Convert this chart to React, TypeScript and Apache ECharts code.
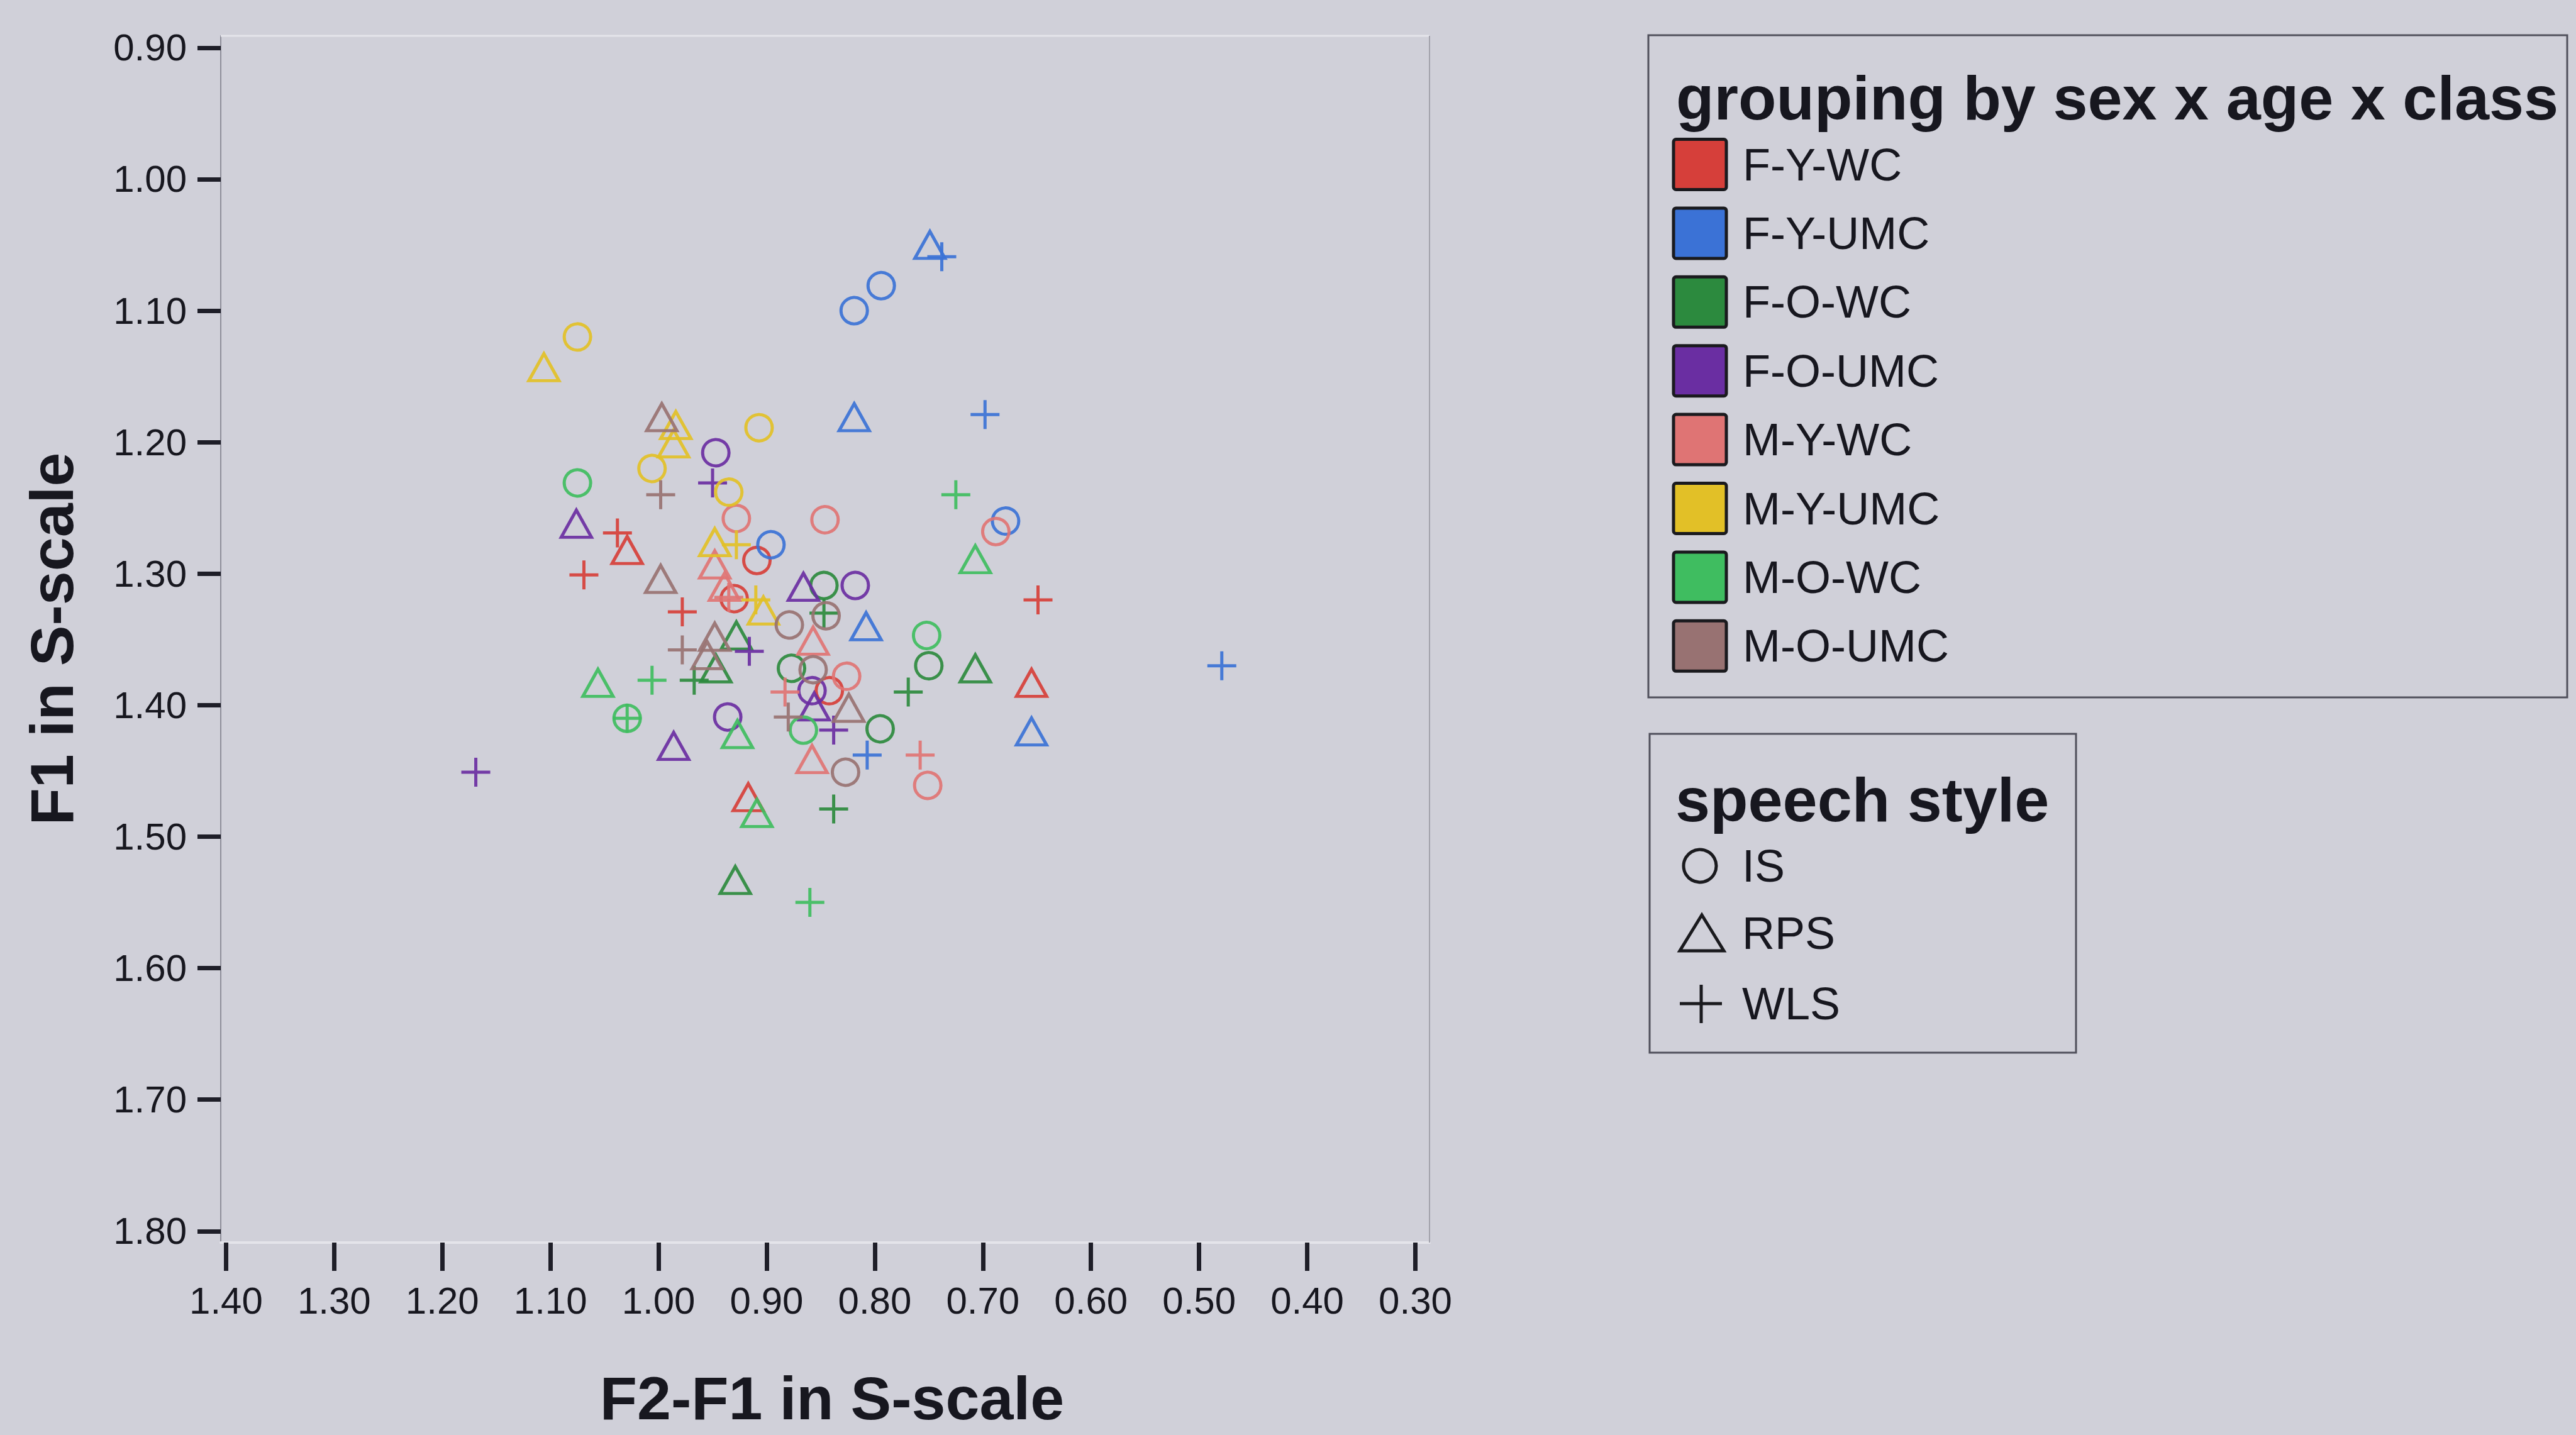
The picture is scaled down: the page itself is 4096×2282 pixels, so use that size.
import React, { useEffect, useRef } from "react";
import * as echarts from "echarts";

// ---------- data ----------
const GROUPS = ["F-Y-WC", "F-Y-UMC", "F-O-WC", "F-O-UMC", "M-Y-WC", "M-Y-UMC", "M-O-WC", "M-O-UMC"];
const GROUP_COLORS = ["#d63f3a", "#3b72d6", "#2c8a3e", "#6a2ea2", "#df7474", "#e2c027", "#3fbd60", "#987272"];
const STYLES = ["IS", "RPS", "WLS"];

// rows: [F2-F1 in S-scale, F1 in S-scale, speech style]
const F_Y_WC: [number, number, string][] = [
  [0.909, 1.290, "IS"], [0.930, 1.319, "IS"], [0.842, 1.389, "IS"],
  [1.029, 1.282, "RPS"], [0.917, 1.470, "RPS"], [0.655, 1.383, "RPS"],
  [1.038, 1.269, "WLS"], [1.069, 1.301, "WLS"], [0.978, 1.329, "WLS"], [0.649, 1.320, "WLS"],
];
const F_Y_UMC: [number, number, string][] = [
  [0.819, 1.100, "IS"], [0.794, 1.081, "IS"], [0.896, 1.278, "IS"], [0.679, 1.260, "IS"],
  [0.749, 1.050, "RPS"], [0.819, 1.181, "RPS"], [0.808, 1.340, "RPS"], [0.655, 1.420, "RPS"],
  [0.738, 1.059, "WLS"], [0.698, 1.179, "WLS"], [0.479, 1.370, "WLS"], [0.807, 1.438, "WLS"],
];
const F_O_WC: [number, number, string][] = [
  [0.847, 1.309, "IS"], [0.877, 1.372, "IS"], [0.750, 1.370, "IS"], [0.795, 1.418, "IS"],
  [0.928, 1.347, "RPS"], [0.947, 1.372, "RPS"], [0.707, 1.372, "RPS"], [0.929, 1.533, "RPS"],
  [0.847, 1.330, "WLS"], [0.967, 1.381, "WLS"], [0.769, 1.390, "WLS"], [0.838, 1.479, "WLS"],
];
const F_O_UMC: [number, number, string][] = [
  [0.947, 1.208, "IS"], [0.818, 1.309, "IS"], [0.858, 1.389, "IS"], [0.936, 1.409, "IS"],
  [1.076, 1.262, "RPS"], [0.866, 1.310, "RPS"], [0.856, 1.401, "RPS"], [0.986, 1.431, "RPS"],
  [0.950, 1.231, "WLS"], [0.916, 1.359, "WLS"], [0.838, 1.419, "WLS"], [1.169, 1.451, "WLS"],
];
const M_Y_WC: [number, number, string][] = [
  [0.928, 1.258, "IS"], [0.846, 1.259, "IS"], [0.688, 1.268, "IS"], [0.826, 1.378, "IS"], [0.751, 1.461, "IS"],
  [0.948, 1.293, "RPS"], [0.939, 1.310, "RPS"], [0.857, 1.351, "RPS"], [0.858, 1.441, "RPS"],
  [0.935, 1.318, "WLS"], [0.883, 1.390, "WLS"], [0.758, 1.438, "WLS"],
];
const M_Y_UMC: [number, number, string][] = [
  [1.075, 1.120, "IS"], [0.907, 1.189, "IS"], [1.006, 1.220, "IS"], [0.935, 1.238, "IS"],
  [1.106, 1.143, "RPS"], [0.984, 1.187, "RPS"], [0.986, 1.201, "RPS"], [0.948, 1.276, "RPS"], [0.903, 1.328, "RPS"],
  [0.928, 1.278, "WLS"], [0.910, 1.320, "WLS"],
];
const M_O_WC: [number, number, string][] = [
  [1.075, 1.231, "IS"], [0.752, 1.347, "IS"], [1.029, 1.410, "IS"], [0.866, 1.419, "IS"],
  [0.707, 1.289, "RPS"], [1.056, 1.383, "RPS"], [0.927, 1.422, "RPS"], [0.909, 1.482, "RPS"],
  [0.725, 1.240, "WLS"], [1.006, 1.381, "WLS"], [1.029, 1.410, "WLS"], [0.860, 1.550, "WLS"],
];
const M_O_UMC: [number, number, string][] = [
  [0.879, 1.339, "IS"], [0.845, 1.332, "IS"], [0.857, 1.373, "IS"], [0.827, 1.451, "IS"],
  [0.997, 1.181, "RPS"], [0.998, 1.304, "RPS"], [0.948, 1.348, "RPS"], [0.955, 1.362, "RPS"], [0.824, 1.402, "RPS"],
  [0.998, 1.240, "WLS"], [0.978, 1.358, "WLS"], [0.880, 1.409, "WLS"],
];
const GROUP_DATA = [F_Y_WC, F_Y_UMC, F_O_WC, F_O_UMC, M_Y_WC, M_Y_UMC, M_O_WC, M_O_UMC];

const X_TICKS = [1.4, 1.3, 1.2, 1.1, 1.0, 0.9, 0.8, 0.7, 0.6, 0.5, 0.4, 0.3];
const Y_TICKS = [0.9, 1.0, 1.1, 1.2, 1.3, 1.4, 1.5, 1.6, 1.7, 1.8];

const X_TITLE = "F2-F1 in S-scale";
const Y_TITLE = "F1 in S-scale";
const LEGEND1_TITLE = "grouping by sex x age x class";
const LEGEND2_TITLE = "speech style";

// ---------- styling ----------
const BG = "#d0d0d9";
const FONT = '"Liberation Sans", Arial, sans-serif';
const INK = "#17171f";
const PLUS_PATH = "path://M0,10L20,10M10,0L10,20";
const SYMBOLS = ["circle", "triangle", PLUS_PATH];
const SIZES: any[] = [42, [48, 43], 46];

const GRID = { left: 351, top: 57, right: 2273, bottom: 1976 };

export default function App() {
  const ref = useRef<HTMLDivElement>(null);

  useEffect(() => {
    if (!ref.current) return;
    const chart = echarts.init(ref.current, null, { renderer: "svg" });

    const series: any[] = [];
    GROUP_DATA.forEach((rows, gi) => {
      STYLES.forEach((st, si) => {
        const pts = rows.filter((r) => r[2] === st).map((r) => [r[0], r[1]]);
        series.push({
          name: GROUPS[gi] + " " + st,
          type: "scatter",
          data: pts,
          symbol: SYMBOLS[si],
          symbolSize: SIZES[si],
          itemStyle: {
            color: "rgba(0,0,0,0)",
            borderColor: GROUP_COLORS[gi],
            borderWidth: 5,
            opacity: 0.92,
          },
          emphasis: { disabled: true },
          silent: true,
          z: 3,
        });
      });
    });

    const fmt = (v: number) => v.toFixed(2);

    const graphic: any[] = [];
    // plot frame: top and right edges
    graphic.push({
      type: "line", silent: true, z: 1,
      shape: { x1: GRID.left, y1: GRID.top, x2: GRID.right, y2: GRID.top },
      style: { stroke: "#e4e4ea", lineWidth: 3 },
    });
    graphic.push({
      type: "line", silent: true, z: 1,
      shape: { x1: GRID.right, y1: GRID.top, x2: GRID.right, y2: GRID.bottom },
      style: { stroke: "#a2a2ac", lineWidth: 2 },
    });
    // axis titles
    graphic.push({
      type: "text", silent: true, x: 1323, y: 2223,
      style: { text: X_TITLE, fontFamily: FONT, fontSize: 97, fontWeight: "bold", fill: INK, align: "center", verticalAlign: "middle" },
    });
    graphic.push({
      type: "text", silent: true, x: 82, y: 1016, rotation: Math.PI / 2,
      style: { text: Y_TITLE, fontFamily: FONT, fontSize: 97, fontWeight: "bold", fill: INK, align: "center", verticalAlign: "middle" },
    });

    // legend 1
    graphic.push({
      type: "rect", silent: true,
      shape: { x: 2621, y: 56, width: 1461, height: 1053 },
      style: { fill: "none", stroke: "#50505c", lineWidth: 3 },
    });
    graphic.push({
      type: "text", silent: true, x: 2665, y: 155,
      style: { text: LEGEND1_TITLE, fontFamily: FONT, fontSize: 99, fontWeight: "bold", fill: INK, align: "left", verticalAlign: "middle" },
    });
    GROUPS.forEach((g, i) => {
      const cy = 261.5 + i * 109.4;
      graphic.push({
        type: "rect", silent: true,
        shape: { x: 2661, y: cy - 40, width: 84, height: 80, r: 4 },
        style: { fill: GROUP_COLORS[i], stroke: "#1a1a1e", lineWidth: 5 },
      });
      graphic.push({
        type: "text", silent: true, x: 2771, y: cy,
        style: { text: g, fontFamily: FONT, fontSize: 72, fill: INK, align: "left", verticalAlign: "middle" },
      });
    });

    // legend 2
    graphic.push({
      type: "rect", silent: true,
      shape: { x: 2623, y: 1167, width: 678, height: 507 },
      style: { fill: "none", stroke: "#50505c", lineWidth: 3 },
    });
    graphic.push({
      type: "text", silent: true, x: 2664, y: 1271,
      style: { text: LEGEND2_TITLE, fontFamily: FONT, fontSize: 99, fontWeight: "bold", fill: INK, align: "left", verticalAlign: "middle" },
    });
    const rowsY = [1377, 1484, 1596];
    graphic.push({
      type: "circle", silent: true,
      shape: { cx: 2703, cy: rowsY[0], r: 26 },
      style: { fill: "none", stroke: "#1a1a1e", lineWidth: 5 },
    });
    graphic.push({
      type: "polygon", silent: true,
      shape: { points: [[2671, 1512], [2741, 1512], [2706, 1455]] },
      style: { fill: "none", stroke: "#1a1a1e", lineWidth: 5 },
    });
    graphic.push({
      type: "line", silent: true,
      shape: { x1: 2671, y1: rowsY[2], x2: 2738, y2: rowsY[2] },
      style: { stroke: "#1a1a1e", lineWidth: 5 },
    });
    graphic.push({
      type: "line", silent: true,
      shape: { x1: 2705, y1: 1566, x2: 2705, y2: 1627 },
      style: { stroke: "#1a1a1e", lineWidth: 5 },
    });
    STYLES.forEach((s, i) => {
      graphic.push({
        type: "text", silent: true, x: 2770, y: rowsY[i],
        style: { text: s, fontFamily: FONT, fontSize: 72, fill: INK, align: "left", verticalAlign: "middle" },
      });
    });

    const option: any = {
      animation: false,
      backgroundColor: BG,
      textStyle: { fontFamily: FONT },
      grid: {
        left: GRID.left,
        top: GRID.top,
        width: GRID.right - GRID.left,
        height: GRID.bottom - GRID.top,
        containLabel: false,
        outerBoundsMode: "none",
      },
      xAxis: {
        type: "value",
        inverse: true,
        min: 0.2869,
        max: 1.4049,
        axisLine: { show: true, onZero: false, lineStyle: { color: "#e4e4ea", width: 4 } },
        axisTick: { show: true, length: 45, customValues: X_TICKS, lineStyle: { color: "#1e1e28", width: 7 } },
        axisLabel: { show: true, customValues: X_TICKS, formatter: fmt, fontSize: 60, margin: 62, color: INK, fontFamily: FONT },
        splitLine: { show: false },
      },
      yAxis: {
        type: "value",
        inverse: true,
        min: 0.891,
        max: 1.8087,
        axisLine: { show: true, onZero: false, lineStyle: { color: "#8e8e9a", width: 2 } },
        axisTick: { show: true, length: 37, customValues: Y_TICKS, lineStyle: { color: "#1e1e28", width: 7 } },
        axisLabel: { show: true, customValues: Y_TICKS, formatter: fmt, fontSize: 60, margin: 54, color: INK, fontFamily: FONT },
        splitLine: { show: false },
      },
      series,
      graphic,
    };

    chart.setOption(option);
    return () => chart.dispose();
  }, []);

  return (
    <div
      ref={ref}
      style={{ position: "fixed", left: 0, top: 0, width: "4096px", height: "2282px", background: BG }}
    />
  );
}
